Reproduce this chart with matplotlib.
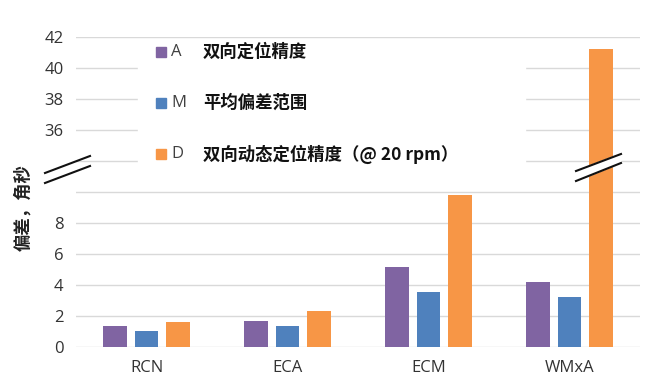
import numpy as np
import matplotlib
matplotlib.use("Agg")
import matplotlib.pyplot as plt
from matplotlib.lines import Line2D
from matplotlib.patches import Rectangle, Polygon

plt.rcParams['font.family'] = ['Open Sans', 'Noto Sans CJK SC', 'DejaVu Sans']

categories = ['RCN', 'ECA', 'ECM', 'WMxA']
vals_a = [1.37, 1.67, 5.17, 4.17]
vals_m = [1.02, 1.33, 3.52, 3.22]
vals_d = [1.59, 2.30, 9.80, 41.2]
series_keys = ['A', 'M', 'D']
series_names = ['双向定位精度', '平均偏差范围', '双向动态定位精度（@ 20 rpm）']
colors = ['#8064A2', '#4F81BD', '#F79646']
tick_vals = [0, 2, 4, 6, 8, 10, 34, 36, 38, 40, 42]
tick_labels = ['0', '2', '4', '6', '8', '', '', '36', '38', '40', '42']


# broken axis: 0-10 kept, 10-34 squeezed into 2 units, above 34 shifted down
def fwd(v):
    v = np.asarray(v, dtype=float)
    return np.where(v <= 10, v, np.where(v >= 34, v - 22, 10 + (v - 10) / 12))


def inv(t):
    t = np.asarray(t, dtype=float)
    return np.where(t <= 10, t, np.where(t >= 12, t + 22, 10 + (t - 10) * 12))


W, H = 651, 387
fig = plt.figure(figsize=(W / 100, H / 100), dpi=100)
ax = fig.add_axes([76 / W, 40 / H, 564 / W, 310 / H])
ax.set_yscale('function', functions=(fwd, inv))

x = np.arange(len(categories))
pitch, width = 0.22, 0.17
for i, vals in enumerate([vals_a, vals_m, vals_d]):
    ax.bar(x + (i - 1) * pitch, vals, width, color=colors[i], zorder=3)

ax.set_xlim(-0.5, 3.5)
ax.set_ylim(0, 42)
ax.set_yticks(tick_vals)
ax.set_yticklabels(tick_labels)
ax.set_xticks(x)
ax.set_xticklabels(categories)
ax.tick_params(length=0, labelsize=12, colors='#333333')
ax.tick_params(axis='y', pad=9)
ax.tick_params(axis='x', pad=9)
ax.yaxis.grid(True, color='#d9d9d9', lw=1, zorder=0)
for s in ax.spines.values():
    s.set_visible(False)

ax.set_ylabel('偏差，角秒', fontsize=12.5, fontweight='bold', color='#222222',
              family=['Noto Sans CJK SC', 'DejaVu Sans'])
ax.yaxis.set_label_coords(-44 / 564, 0.45)


def px(xp, yp):
    return (xp / W, 1 - yp / H)


# legend drawn as a white box with squares, letters and names
fig.add_artist(Rectangle(px(138, 175), (525 - 138) / W, (175 - 44) / H,
                         transform=fig.transFigure, color='white', zorder=4))
rows_y = [52, 103, 154]
for k, yy in enumerate(rows_y):
    fig.add_artist(Rectangle(px(156, yy + 5), 10 / W, 10 / H, transform=fig.transFigure,
                             color=colors[k], zorder=5))
    fig.text(*px(171, yy), series_keys[k], fontsize=12, color='#404040',
             va='center', ha='left', zorder=6)
    fig.text(*px(203, yy), series_names[k], fontsize=12.5, fontweight='bold',
             color='#111111', va='center', ha='left', zorder=6,
             family=['Noto Sans CJK SC', 'DejaVu Sans'])

# break marks
fig.add_artist(Line2D([45 / W, 90 / W], [1 - 173 / H, 1 - 156 / H],
                      transform=fig.transFigure, color='#111111', lw=1.5, zorder=7))
fig.add_artist(Line2D([45 / W, 90 / W], [1 - 183 / H, 1 - 166 / H],
                      transform=fig.transFigure, color='#111111', lw=1.5, zorder=7))
fig.add_artist(Polygon([px(576, 171), px(621, 154), px(621, 163), px(576, 181)],
                       closed=True, transform=fig.transFigure, color='white', zorder=6))
fig.add_artist(Line2D([576 / W, 621 / W], [1 - 171 / H, 1 - 154 / H],
                      transform=fig.transFigure, color='#111111', lw=1.5, zorder=7))
fig.add_artist(Line2D([576 / W, 621 / W], [1 - 181 / H, 1 - 163 / H],
                      transform=fig.transFigure, color='#111111', lw=1.5, zorder=7))

fig.savefig('out.png', dpi=100)
